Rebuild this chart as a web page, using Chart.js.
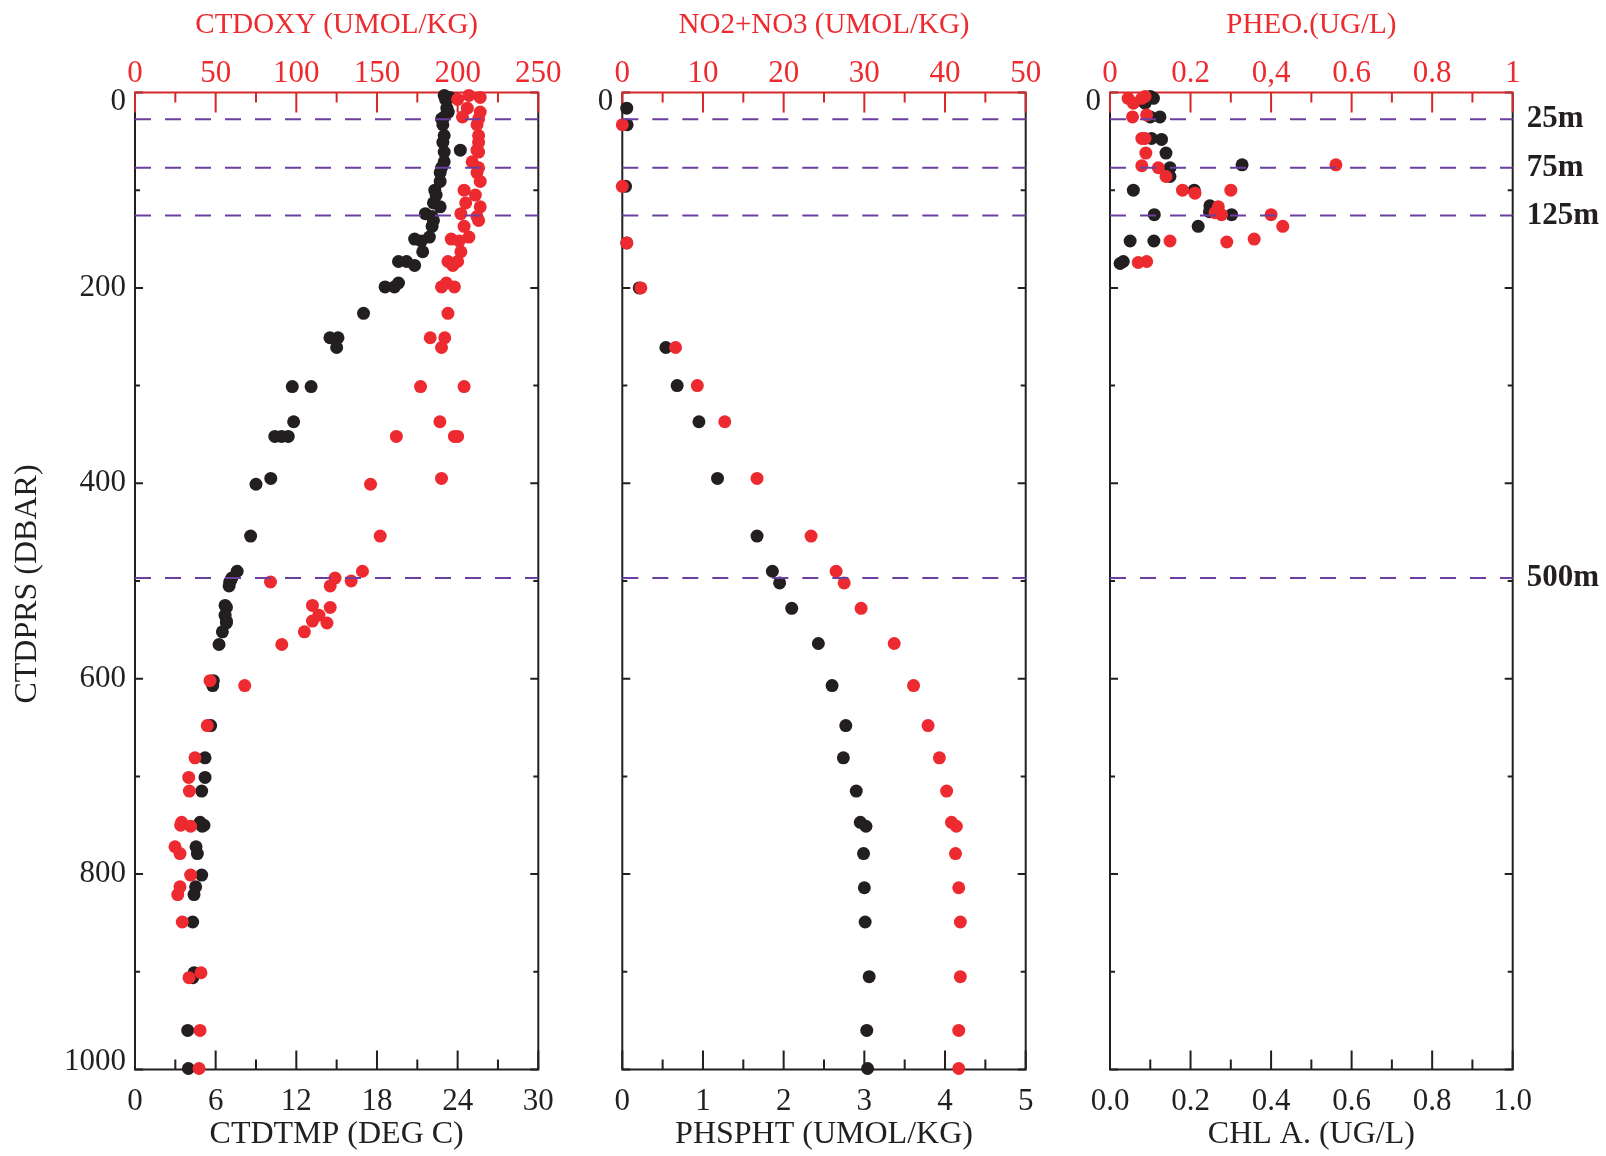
<!DOCTYPE html>
<html>
<head>
<meta charset="utf-8">
<title>CTD station profiles</title>
<script src="https://cdn.jsdelivr.net/npm/chart.js@4.4.1/dist/chart.umd.min.js"></script>
<style>
  html, body { margin: 0; padding: 0; background: #fff; }
  #wrap { position: relative; width: 1606px; height: 1156px; overflow: hidden; }
  canvas { position: absolute; top: 0; }
</style>
</head>
<body>
<div id="wrap">
  <canvas id="c1" width="570" height="1156" style="left:0px"></canvas>
  <canvas id="c2" width="480" height="1156" style="left:570px"></canvas>
  <canvas id="c3" width="556" height="1156" style="left:1050px"></canvas>
</div>
<script>
// ── Data: panel 1 (temperature / oxygen) ───────────────
const depth1 = [3, 5, 7, 16, 20, 25, 27, 33, 44, 51, 59, 61, 71, 77, 82, 91, 100, 105, 113, 117,
  124, 127, 131, 137, 148, 150, 152, 163, 173, 173, 177, 195, 199, 199, 226, 251, 251, 261, 301, 301,
  337, 352, 352, 352, 395, 401, 454, 490, 497, 500, 501, 505, 525, 527, 535, 541, 543, 552, 565, 602,
  607, 648, 681, 701, 715, 747, 750, 751, 772, 779, 801, 813, 821, 849, 901, 906, 960, 999];
const ctdTmp = [23.0, 23.4, 23.1, 23.2, 23.3, 23.0, 22.8, 22.9, 23.0, 22.9, 24.2, 23.0, 23.0, 22.8, 22.7, 22.7, 22.3, 22.4, 22.2, 22.7,
  21.6, 22.1, 22.2, 22.1, 21.9, 20.8, 21.3, 21.4, 19.6, 20.2, 20.8, 19.6, 18.6, 19.3, 17.0, 14.5, 15.1, 15.0, 11.7, 13.1,
  11.8, 10.4, 10.9, 11.4, 10.1, 9.0, 8.6, 7.6, 7.2, 7.1, 7.05, 7.0, 6.7, 6.8, 6.7, 6.8, 6.8, 6.5, 6.25, 5.83,
  5.78, 5.63, 5.21, 5.21, 4.96, 4.84, 5.13, 5.0, 4.54, 4.64, 4.96, 4.51, 4.39, 4.29, 4.39, 4.3, 3.92, 3.97];
const ctdOxy = [207, 214, 200, 206, 214, 203, 213, 212, 213, 213, 212, 213, 209, 213, 212, 214, 204, 211, 205, 214,
  202, 212, 213, 204, 207, 196, 201, 202, 194, 200, 197, 193, 190, 198, 194, 183, 192, 190, 177, 204,
  189, 162, 198, 200, 190, 146, 152, 141, 124, 134, 84, 121, 110, 121, 114, 110, 119, 105, 91, 46.5,
  68, 44.8, 37.2, 33.3, 33.7, 28.9, 28.3, 34.5, 24.8, 27.9, 34.5, 27.9, 26.5, 29.3, 40.9, 33.5, 40.3, 39.7];

// ── Data: panel 2 (phosphate / nitrate+nitrite) ────────
const depth2 = [16, 33, 96, 154, 200, 261, 300, 337, 395, 454, 490, 502, 528, 564, 607, 648, 681, 715, 747, 751,
  779, 814, 849, 905, 960, 999];
const phspht = [0.055, 0.06, 0.04, 0.055, 0.21, 0.54, 0.68, 0.95, 1.18, 1.67, 1.86, 1.95, 2.10, 2.43, 2.60, 2.77, 2.74, 2.90, 2.95, 3.02,
  2.99, 3.00, 3.01, 3.06, 3.03, 3.04];
const no2no3 = [null, 0, 0, 0.55, 2.3, 6.6, 9.3, 12.7, 16.7, 23.4, 26.5, 27.5, 29.6, 33.7, 36.1, 37.9, 39.3, 40.2, 40.8, 41.4,
  41.3, 41.7, 41.9, 41.9, 41.7, 41.7];

// ── Data: panel 3 (chlorophyll / phaeopigments) ────────
const chlDepth = [4, 6, 11, 25, 25, 47, 48, 62, 74, 77, 86, 100, 100, 116, 122, 125, 125, 137, 152, 152, 173, 175];
const chlA = [0.10, 0.108, 0.087, 0.124, 0.10, 0.103, 0.128, 0.139, 0.328, 0.149, 0.149, 0.058, 0.209, 0.248, 0.247, 0.302, 0.11, 0.219, 0.05, 0.109, 0.033, 0.025];
const pheoDepth = [4, 6, 6, 11, 23, 25, 47, 47, 62, 74, 75, 77, 86, 100, 100, 103, 117, 123, 125, 125, 137, 150, 152, 153, 173, 174];
const pheo = [0.087, 0.045, 0.079, 0.058, 0.091, 0.056, 0.079, 0.087, 0.089, 0.561, 0.079, 0.12, 0.139, 0.18, 0.30, 0.211, 0.269, 0.261, 0.277, 0.40, 0.429, 0.358, 0.149, 0.29, 0.091, 0.07];

// ── Reference depth lines ──────────────────────────────
const refDepths = [27.5, 77, 126, 497];
const refLabels = ['25m', '75m', '125m', '500m'];

// ── Tick labels ────────────────────────────────────────
const depthValues = [0, 200, 400, 600, 800, 1000];
const depthTicks = ['0', '200', '400', '600', '800', '1000'];
const tmpTicks = ['0', '6', '12', '18', '24', '30'];
const oxyTicks = ['0', '50', '100', '150', '200', '250'];
const po4Ticks = ['0', '1', '2', '3', '4', '5'];
const no3Ticks = ['0', '10', '20', '30', '40', '50'];
const chlTicks = ['0.0', '0.2', '0.4', '0.6', '0.8', '1.0'];
const pheoTicks = ['0', '0.2', '0,4', '0.6', '0.8', '1'];

// ── Style ──────────────────────────────────────────────
const BLACK = '#231f20';
const RED = '#ed2a2f';
const AXIS_RED = '#d5282d';
const PURPLE = '#6b3fa0';
const SERIF = '"Liberation Serif", "Times New Roman", serif';
const AREA_TOP = 92.5;
const AREA_BOTTOM = 1069.5;
const H = 1156;

Chart.defaults.font.family = SERIF;
Chart.defaults.color = BLACK;

function pts(depths, values) {
  const out = [];
  depths.forEach((d, i) => {
    if (values[i] !== null && values[i] !== undefined) out.push({ x: values[i], y: d });
  });
  return out;
}

// frame + inward ticks under the dots; dashed depth lines and depth labels over them
const framePlugin = {
  id: 'frame',
  beforeDatasetsDraw(chart) {
    const { ctx, chartArea: a, scales } = chart;
    const o = chart.options.plugins.frame;
    ctx.save();
    ctx.lineWidth = 2;
    ctx.lineCap = 'butt';

    const tickRun = (scale, minor, cb) => {
      const n = Math.round((scale.max - scale.min) / minor);
      for (let i = 0; i <= n; i++) cb(scale.getPixelForValue(scale.min + i * minor), i % 2 === 0);
    };

    // bottom axis
    ctx.strokeStyle = BLACK;
    ctx.beginPath();
    tickRun(scales.x, o.xMinor, (px, major) => {
      ctx.moveTo(px, a.bottom); ctx.lineTo(px, a.bottom - (major ? 19 : 10));
    });
    // left / right ticks
    tickRun(scales.y, 100, (py, major) => {
      const len = major ? 8 : 5;
      ctx.moveTo(a.left, py); ctx.lineTo(a.left + len, py);
      ctx.moveTo(a.right, py); ctx.lineTo(a.right - len, py);
    });
    ctx.stroke();
    ctx.beginPath();
    ctx.moveTo(a.left, a.top); ctx.lineTo(a.left, a.bottom);
    ctx.lineTo(a.right, a.bottom); ctx.lineTo(a.right, a.top);
    ctx.stroke();

    // top axis (red)
    ctx.strokeStyle = AXIS_RED;
    ctx.beginPath();
    tickRun(scales.x2, o.x2Minor, (px, major) => {
      ctx.moveTo(px, a.top); ctx.lineTo(px, a.top + (major ? 20 : 10));
    });
    ctx.moveTo(a.left - 1, a.top); ctx.lineTo(a.right + 1, a.top);
    ctx.stroke();
    ctx.restore();
  },
  afterDatasetsDraw(chart) {
    const { ctx, chartArea: a, scales } = chart;
    const o = chart.options.plugins.frame;
    ctx.save();
    ctx.strokeStyle = PURPLE;
    ctx.lineWidth = 2;
    ctx.setLineDash([16, 14]);
    refDepths.forEach(d => {
      const py = scales.y.getPixelForValue(d);
      ctx.beginPath();
      ctx.moveTo(a.left, py); ctx.lineTo(a.right, py);
      ctx.stroke();
    });
    ctx.restore();

    // depth labels, end labels kept inside the frame
    ctx.save();
    ctx.font = '31px ' + SERIF;
    ctx.fillStyle = BLACK;
    ctx.textAlign = 'right';
    ctx.textBaseline = 'middle';
    const shown = o.allDepthLabels ? depthValues : [0];
    shown.forEach(v => {
      let py = scales.y.getPixelForValue(v);
      py = Math.min(Math.max(py, a.top + 9), a.bottom - 8);
      ctx.fillText(depthTicks[depthValues.indexOf(v)], a.left - 9, py);
    });
    ctx.restore();

    if (o.yTitle) {
      ctx.save();
      ctx.translate(28, 584);
      ctx.rotate(-Math.PI / 2);
      ctx.font = '32px ' + SERIF;
      ctx.fillStyle = BLACK;
      ctx.textAlign = 'center';
      ctx.textBaseline = 'middle';
      ctx.fillText(o.yTitle, 0, 0);
      ctx.restore();
    }
  },
};

function makePanel(id, cfg) {
  const canvas = document.getElementById(id);
  const W = canvas.width;
  const noGrid = { display: false, drawTicks: false };
  const scales = {
    x: {
      type: 'linear', position: 'bottom', min: 0, max: cfg.xMax,
      grid: noGrid, border: { display: false },
      ticks: {
        stepSize: cfg.xMax / 5, color: BLACK, padding: 13.5, maxRotation: 0, autoSkip: false,
        font: { size: 31 }, callback: (v, i) => cfg.xTicks[i],
      },
      title: { display: true, text: cfg.xTitle, color: BLACK, font: { size: 32 }, padding: { top: 0, bottom: 2 } },
      afterFit: s => { s.height = H - AREA_BOTTOM; },
    },
    x2: {
      type: 'linear', position: 'top', min: 0, max: cfg.x2Max,
      grid: noGrid, border: { display: false },
      ticks: {
        stepSize: cfg.x2Max / 5, color: RED, padding: 0, maxRotation: 0, autoSkip: false,
        font: { size: 31 }, callback: (v, i) => cfg.x2Ticks[i],
      },
      title: { display: true, text: cfg.x2Title, color: RED, font: { size: 29 }, padding: { top: 7.5, bottom: 0 } },
      afterFit: s => { s.height = AREA_TOP; },
    },
    y: {
      type: 'linear', position: 'left', min: 0, max: 1000, reverse: true,
      grid: noGrid, border: { display: false },
      ticks: { display: false, stepSize: 100 },
      afterFit: s => { s.width = cfg.areaLeft; },
    },
  };
  if (cfg.rightLabels) {
    scales.y2 = {
      type: 'linear', position: 'right', min: 0, max: 1000, reverse: true,
      grid: noGrid, border: { display: false },
      ticks: {
        color: BLACK, padding: 14, autoSkip: false,
        font: { size: 31, weight: 'bold' }, callback: v => refLabels[refDepths.indexOf(v)],
      },
      afterBuildTicks: s => { s.ticks = refDepths.map(v => ({ value: v })); },
      afterFit: s => { s.width = W - cfg.areaRight; },
    };
  }

  return new Chart(canvas, {
    type: 'scatter',
    data: {
      datasets: [
        {
          label: cfg.x2Title, data: cfg.red, xAxisID: 'x2', yAxisID: 'y',
          backgroundColor: RED, pointRadius: 6.5, pointBorderWidth: 0, pointHoverRadius: 6.5, clip: false,
        },
        {
          label: cfg.xTitle, data: cfg.black, xAxisID: 'x', yAxisID: 'y',
          backgroundColor: BLACK, pointRadius: 6.5, pointBorderWidth: 0, pointHoverRadius: 6.5, clip: false,
        },
      ],
    },
    options: {
      responsive: false,
      animation: false,
      devicePixelRatio: 1,
      events: [],
      layout: { padding: { left: 0, top: 0, bottom: 0, right: cfg.rightLabels ? 0 : W - cfg.areaRight } },
      scales,
      plugins: {
        legend: { display: false },
        tooltip: { enabled: false },
        frame: { xMinor: cfg.xMax / 10, x2Minor: cfg.x2Max / 10, yTitle: cfg.yTitle, allDepthLabels: cfg.allDepthLabels },
      },
    },
    plugins: [framePlugin],
  });
}

makePanel('c1', {
  areaLeft: 135, areaRight: 538.3,
  black: pts(depth1, ctdTmp), red: pts(depth1, ctdOxy),
  xMax: 30, xTicks: tmpTicks, xTitle: 'CTDTMP (DEG C)',
  x2Max: 250, x2Ticks: oxyTicks, x2Title: 'CTDOXY (UMOL/KG)',
  allDepthLabels: true, yTitle: 'CTDPRS (DBAR)',
});

makePanel('c2', {
  areaLeft: 52.3, areaRight: 455.7,
  black: pts(depth2, phspht), red: pts(depth2, no2no3),
  xMax: 5, xTicks: po4Ticks, xTitle: 'PHSPHT (UMOL/KG)',
  x2Max: 50, x2Ticks: no3Ticks, x2Title: 'NO2+NO3 (UMOL/KG)',
  allDepthLabels: false,
});

makePanel('c3', {
  areaLeft: 60, areaRight: 462.7,
  black: pts(chlDepth, chlA), red: pts(pheoDepth, pheo),
  xMax: 1, xTicks: chlTicks, xTitle: 'CHL A. (UG/L)',
  x2Max: 1, x2Ticks: pheoTicks, x2Title: 'PHEO.(UG/L)',
  allDepthLabels: false, rightLabels: true,
});
</script>
</body>
</html>
